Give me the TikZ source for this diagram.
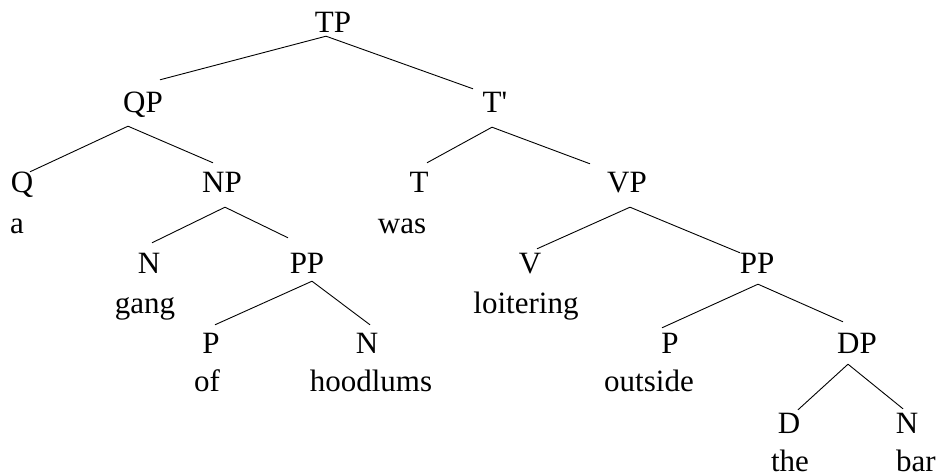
\documentclass[tikz,border=0pt]{standalone}
\usepackage{fontspec}
\setmainfont{Liberation Serif}
\begin{document}
\begin{tikzpicture}[x=1pt,y=-1pt,
  every node/.style={font=\fontsize{31}{36}\selectfont},
  cat/.style={anchor=base, inner sep=0pt, text height=20pt, text depth=0pt},
  word/.style={anchor=base, inner sep=0pt},
  branch/.style={draw=black, line width=0.9pt}]
\useasboundingbox (0,0) rectangle (940,476);
% categories
\node[cat] (TP) at (333,33) {TP};
\node[cat] (QP) at (143,113) {QP};
\node[cat] (Tb) at (495,113) {T\textquotesingle};
\node[cat] (Q) at (22,193) {Q};
\node[cat] (NP) at (222,193) {NP};
\node[cat] (T) at (419,193) {T};
\node[cat] (VP) at (627,193) {VP};
\node[cat] (N1) at (149,273) {N};
\node[cat] (PP1) at (307,273) {PP};
\node[cat] (V) at (530,273) {V};
\node[cat] (PP2) at (757,273) {PP};
\node[cat] (P1) at (211,353) {P};
\node[cat] (N2) at (367,353) {N};
\node[cat] (P2) at (670,353) {P};
\node[cat] (DP) at (857,353) {DP};
\node[cat] (D) at (789,433) {D};
\node[cat] (N3) at (907,433) {N};
% words
\node[word] (wa) at (17,233) {a};
\node[word] (wwas) at (402,233) {was};
\node[word] (wgang) at (145,313) {gang};
\node[word] (wloit) at (526,313) {loitering};
\node[word] (wof) at (207,391) {of};
\node[word] (whood) at (371,391) {hoodlums};
\node[word] (wout) at (649,391) {outside};
\node[word] (wthe) at (790,471) {the};
\node[word] (wbar) at (916,471) {bar};
% branches
\draw[branch] ([shift={(-7,3)}]TP.south) -- ([shift={(17,-13)}]QP.north);
\draw[branch] ([shift={(-7,3)}]TP.south) -- ([shift={(-22,-4)}]Tb.north);
\draw[branch] ([shift={(-15,13)}]QP.south) -- ([shift={(8,-1)}]Q.north);
\draw[branch] ([shift={(-15,13)}]QP.south) -- ([shift={(-9,-10)}]NP.north);
\draw[branch] ([shift={(3,14)}]NP.south) -- ([shift={(3,-10)}]N1.north);
\draw[branch] ([shift={(3,14)}]NP.south) -- ([shift={(-19,-15)}]PP1.north);
\draw[branch] ([shift={(-3,14)}]Tb.south) -- ([shift={(8,-10)}]T.north);
\draw[branch] ([shift={(-3,14)}]Tb.south) -- ([shift={(-37,-9)}]VP.north);
\draw[branch] ([shift={(3,14)}]VP.south) -- ([shift={(7,-4)}]V.north);
\draw[branch] ([shift={(3,14)}]VP.south) -- ([shift={(-17,0)}]PP2.north);
\draw[branch] ([shift={(5,8)}]PP1.south) -- ([shift={(4,-8)}]P1.north);
\draw[branch] ([shift={(5,8)}]PP1.south) -- ([shift={(3,-8)}]N2.north);
\draw[branch] ([shift={(1,11)}]PP2.south) -- ([shift={(-8,-5)}]P2.north);
\draw[branch] ([shift={(1,11)}]PP2.south) -- ([shift={(-14,-11)}]DP.north);
\draw[branch] ([shift={(-9,11)}]DP.south) -- ([shift={(9,-3)}]D.north);
\draw[branch] ([shift={(-9,11)}]DP.south) -- ([shift={(-4,-4)}]N3.north);
\end{tikzpicture}
\end{document}
